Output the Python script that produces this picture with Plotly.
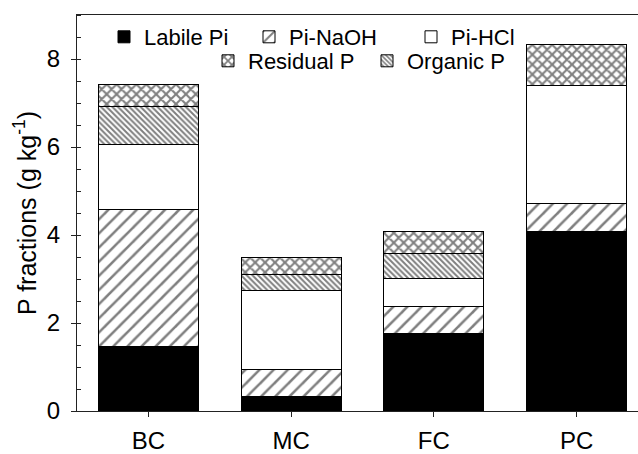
import plotly.graph_objects as go

categories = ["BC", "MC", "FC", "PC"]
labile_pi = [1.46, 0.33, 1.77, 4.09]
pi_naoh = [3.12, 0.62, 0.60, 0.63]
pi_hcl = [1.48, 1.80, 0.64, 2.67]
organic_p = [0.86, 0.36, 0.57, 0.0]
residual_p = [0.50, 0.37, 0.50, 0.94]

FONT = "Liberation Sans, Arial, sans-serif"

series = [
    ("Labile Pi", labile_pi, dict(color="black"), "legend"),
    ("Pi-NaOH", pi_naoh, dict(color="white", pattern=dict(shape="/", fgcolor="black", bgcolor="white", size=10, solidity=0.25)), "legend2"),
    ("Pi-HCl", pi_hcl, dict(color="white"), "legend3"),
    ("Organic P", organic_p, dict(color="white", pattern=dict(shape="\\", fgcolor="black", bgcolor="white", size=4, solidity=0.5)), "legend5"),
    ("Residual P", residual_p, dict(color="white", pattern=dict(shape="x", fgcolor="black", bgcolor="white", size=7, solidity=0.5)), "legend4"),
]

fig = go.Figure()
for name, vals, marker, lg in series:
    m = dict(marker)
    m["line"] = dict(color="black", width=1)
    fig.add_trace(go.Bar(x=categories, y=vals, name=name, marker=m, width=0.7, legend=lg))

L, W = 77, 561
def px(x):
    return (x - L) / W
def py(y):
    return (411 - y) / 396

legend_common = dict(font=dict(family=FONT, size=22, color="black"), bgcolor="rgba(0,0,0,0)",
                     xanchor="left", yanchor="middle", orientation="h", borderwidth=0)
fig.update_layout(
    legend=dict(x=px(104), y=py(37), **legend_common),
    legend2=dict(x=px(249), y=py(37), **legend_common),
    legend3=dict(x=px(411), y=py(37), **legend_common),
    legend4=dict(x=px(208), y=py(61), **legend_common),
    legend5=dict(x=px(367), y=py(61), **legend_common),
)

fig.update_layout(
    barmode="stack",
    width=638, height=454,
    margin=dict(l=77, r=0, t=15, b=43, autoexpand=False),
    plot_bgcolor="white", paper_bgcolor="white",
    font=dict(family=FONT, color="black"),
    showlegend=True,
    xaxis=dict(range=[-0.5, 3.43], showline=True, linecolor="#222", linewidth=1, mirror=True,
               ticks="outside", ticklen=5, tickcolor="#222", tickfont=dict(size=24, family=FONT),
               ticklabelstandoff=3, showgrid=False, zeroline=False, automargin=False),
    yaxis=dict(range=[0, 9], dtick=2, showline=True, linecolor="#222", linewidth=1,
               ticks="outside", ticklen=5, tickcolor="#222", tickfont=dict(size=24, family=FONT),
               ticklabelstandoff=6, automargin=False,
               minor=dict(dtick=0.5, ticks="inside", ticklen=4, tickcolor="#222", showgrid=False),
               showgrid=False, zeroline=False,
               title=dict(text="P fractions (g kg<sup>-1</sup>)", font=dict(size=25, family=FONT), standoff=3)),
)

fig.write_html("out.html")
